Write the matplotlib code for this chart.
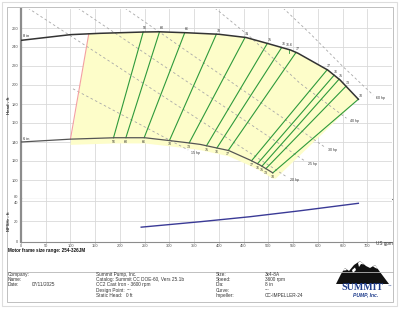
import numpy as np
import matplotlib
matplotlib.use('Agg')
import matplotlib.pyplot as plt
from matplotlib.patches import Rectangle, Polygon

plt.rcParams['font.family'] = ['Liberation Sans', 'DejaVu Sans']

# ---------------- data ----------------
max_q = [0, 100, 160, 250, 280, 335, 400, 455, 500, 545, 560, 620, 645, 682]
max_h = [247, 253, 254.4, 255.8, 256, 255, 253.4, 250, 243.5, 236.8, 233.4, 215.8, 205.3, 185]
min_q = [0, 100, 190, 250, 300, 340, 362, 420, 463, 483, 509]
min_h = [140, 143, 144.5, 144.5, 141.5, 139, 137.5, 131, 121, 115.8, 107.5]

eff_labels = ['56', '60', '66', '70', '73', '75', '76', '77', '77', '76', '75', '73', '70']
eff_top_q = [247, 280, 331, 395, 453, 498, 527, 556, 619, 633, 643, 657, 682]
eff_bot_q = [187, 212, 249, 300, 340, 375, 396, 419, 466, 478, 487, 495, 509]

bep_q = 542
bep_label = '76.6'

pink_q = [100, 137]

hp_labels = ['60 hp', '40 hp', '30 hp', '25 hp', '20 hp', '15 hp']
hp_q = [[530, 584, 651, 712], [392, 463, 564, 658], [210, 614], [115, 574], [14, 538], [105, 338]]
hp_h = [[281, 254.4, 219.3, 189.4], [281, 250.8, 201.8, 165], [281, 134.7], [281, 120], [281, 103], [196, 131.6]]

npsh_q = [243, 362, 463, 564, 682]
npsh_h = [14, 19.3, 24.2, 30, 37.3]

x_ticks = list(range(0, 701, 50))
head_ticks = list(range(80, 261, 20))
npsh_ticks = [0, 20, 40]

# ---------------- figure ----------------
W, H = 400, 309
fig = plt.figure(figsize=(4, 3.09), dpi=100)

def fx(px):
    return px / W

def fy(py):
    return 1 - py / H

ax1 = fig.add_axes([fx(21), fy(199), fx(392) - fx(21), fy(9) - fy(199)])
ax2 = fig.add_axes([fx(21), fy(241.5), fx(392) - fx(21), fy(199) - fy(241.5)], sharex=ax1)

grid_c = '#d9d9d9'
for ax in (ax1, ax2):
    ax.set_xlim(0, 750)
    ax.set_xticks(x_ticks)
    ax.grid(True, color=grid_c, lw=0.6)
    ax.set_axisbelow(True)
    for s in ('top', 'right'):
        ax.spines[s].set_visible(False)
    ax.spines['left'].set_color('#8c8c8c')
    ax.spines['left'].set_linewidth(1.6)
    ax.tick_params(labelsize=2.9, colors='#555555', length=1.0, width=0.4, pad=1.2)

ax1.set_ylim(80, 280)
ax1.set_yticks(head_ticks)
ax1.spines['bottom'].set_color('#777777')
ax1.spines['bottom'].set_linewidth(0.8)
ax1.tick_params(axis='x', labelbottom=False, length=0)
for lab in ax1.get_yticklabels():
    if lab.get_text() == '80':
        lab.set_va('bottom')

ax2.set_ylim(0, 41.5)
ax2.set_yticks(npsh_ticks)
ax2.spines['bottom'].set_color('#8c8c8c')
ax2.spines['bottom'].set_linewidth(0.8)
ax2.tick_params(axis='x', pad=0.6)
for lab in ax2.get_yticklabels():
    if lab.get_text() == '40':
        lab.set_va('top')

# yellow operating region
top_q = np.array([q for q in max_q if q > pink_q[1]])
top_h = np.interp(top_q, max_q, max_h)
bq = np.array([q for q in min_q if pink_q[0] < q < min_q[-1]] + [min_q[-1]])
bh = np.interp(bq, min_q, min_h) - 6
poly_x = [pink_q[1]] + list(top_q) + [min_q[-1] + 6] + list(bq[::-1]) + [pink_q[0]]
poly_y = [np.interp(pink_q[1], max_q, max_h)] + list(top_h) + [min_h[-1] - 6] + list(bh[::-1]) + [np.interp(pink_q[0], min_q, min_h) - 6]
ax1.fill(poly_x, poly_y, color='#fdfdc9', lw=0, zorder=1)

# pink boundary
ax1.plot(pink_q, [np.interp(pink_q[0], min_q, min_h), np.interp(pink_q[1], max_q, max_h)],
         color='#f4a0a0', lw=0.8, zorder=3)

# power lines
for lab, qs, hs in zip(hp_labels, hp_q, hp_h):
    ax1.plot(qs, hs, color='#a8a8a8', lw=0.6, dashes=(3, 3), zorder=2)
    ax1.annotate(lab, (qs[-1], hs[-1]), xytext=(2.2, -2.2), textcoords='offset points',
                 fontsize=2.6, color='#333333', ha='left', va='center')

# efficiency lines
for lab, tq, bq_ in zip(eff_labels, eff_top_q, eff_bot_q):
    th = np.interp(tq, max_q, max_h)
    bh_ = np.interp(bq_, min_q, min_h)
    ax1.plot([bq_, tq], [bh_, th], color='#2e9a3c', lw=0.8, zorder=4)
    ax1.annotate(lab, (tq, th), xytext=(1.5, 2.6), textcoords='offset points',
                 fontsize=2.6, color='#333333', ha='center', va='center')
    ax1.annotate(lab, (bq_, bh_), xytext=(0, -2.8), textcoords='offset points',
                 fontsize=2.6, color='#333333', ha='center', va='center')

# BEP marker
bh_bep = np.interp(bep_q, max_q, max_h)
ax1.plot([bep_q, bep_q], [bh_bep - 4, bh_bep], color='#2e9a3c', lw=0.6, zorder=5)
ax1.annotate(bep_label, (bep_q, bh_bep), xytext=(0, 3.5), textcoords='offset points',
             fontsize=2.6, color='#333333', ha='center', va='center')

# impeller curves
ax1.plot(max_q, max_h, color='#333333', lw=1.1, zorder=6)
ax1.plot(min_q, min_h, color='#555555', lw=0.9, zorder=6)
ax1.text(4, 251.5, '8 in', fontsize=2.8, color='#222222', va='center')
ax1.text(4, 143, '6 in', fontsize=2.8, color='#222222', va='center')

# NPSH
ax2.plot(npsh_q, npsh_h, color='#3a3a96', lw=1.0)

# axis labels
fig.text(fx(9), fy(105), 'Head - ft', rotation=90, fontsize=3.2, fontweight='bold',
         ha='center', va='center', color='#333333')
fig.text(fx(9), fy(221), 'NPSHr - ft', rotation=90, fontsize=3.0, fontweight='bold',
         ha='center', va='center', color='#333333')
fig.text(fx(376), fy(244), 'US gpm', fontsize=3.3, ha='left', va='center', color='#333333')

# frames
fig.add_artist(Rectangle((fx(2), fy(306)), fx(397) - fx(2), fy(2) - fy(306),
                         transform=fig.transFigure, fill=False, ec='#dddddd', lw=0.8))
fig.add_artist(Rectangle((fx(7), fy(302)), fx(392.5) - fx(7), fy(7) - fy(302),
                         transform=fig.transFigure, fill=False, ec='#b5b5b5', lw=0.6))
fig.add_artist(plt.Line2D([fx(7), fx(392.5)], [fy(272), fy(272)], transform=fig.transFigure,
                          color='#b5b5b5', lw=0.6))

fig.text(fx(8), fy(250.5), 'Motor frame size range: 254-326JM', fontsize=3.3, fontweight='bold',
         ha='left', va='center', color='#111111')

rows = [274.3, 279.5, 284.8, 290.1, 295.5]
tc = '#333333'
fs = 3.4
for txt, r in zip(['Company:', 'Name:', 'Date:'], rows):
    fig.text(fx(8), fy(r), txt, fontsize=fs, color=tc, va='center')
fig.text(fx(32), fy(rows[2]), '07/11/2025', fontsize=fs, color=tc, va='center')
for txt, r in zip(['Summit Pump, Inc.', 'Catalog: Summit CC DOE-60, Vers 25.1b',
                   'CC2 Cast Iron - 3600 rpm', 'Design Point:', 'Static Head:'], rows):
    fig.text(fx(96), fy(r), txt, fontsize=fs, color=tc, va='center')
fig.text(fx(126.5), fy(rows[3]), '---', fontsize=fs, color=tc, va='center')
fig.text(fx(126.5), fy(rows[4]), '0 ft', fontsize=fs, color=tc, va='center')
for txt, val, r in zip(['Size:', 'Speed:', 'Dia:', 'Curve:', 'Impeller:'],
                       ['3x4-8A', '3600 rpm', '8 in', '---', 'CC-IMPELLER-24'], rows):
    fig.text(fx(216), fy(r), txt, fontsize=fs, color=tc, va='center')
    fig.text(fx(265), fy(r), val, fontsize=fs, color=tc, va='center')

# logo
mount = [(336, 284), (341, 274), (345, 268), (349, 271), (354, 265), (360, 261), (366, 266),
         (370, 268), (375, 265), (380, 272), (389, 284)]
fig.add_artist(Polygon([(fx(a), fy(b)) for a, b in mount], closed=True, transform=fig.transFigure,
                       fc='#111111', ec='none'))
snow = [[(358, 263), (360, 261), (364, 264.5), (361, 264), (359, 267)],
        [(373, 266.5), (375, 265), (378, 269), (375.5, 268)],
        [(343, 270.5), (345, 268), (347, 270), (345, 270.5)],
        [(352, 270), (355, 267.5), (356, 270), (353, 273)]]
for s in snow:
    fig.add_artist(Polygon([(fx(a), fy(b)) for a, b in s], closed=True, transform=fig.transFigure,
                           fc='white', ec='none'))
fig.text(fx(362), fy(287), 'SUMMIT', fontsize=7.2, fontweight='bold', family='Liberation Serif',
         color='#1f3d8c', ha='center', va='center')
fig.text(fx(388), fy(286), '™', fontsize=2.5, color='#1f3d8c', ha='left', va='center')
fig.text(fx(366), fy(294.5), 'PUMP, Inc.', fontsize=3.6, fontweight='bold', style='italic',
         color='#1f3d8c', ha='center', va='center')

fig.savefig('out.png', dpi=100)
